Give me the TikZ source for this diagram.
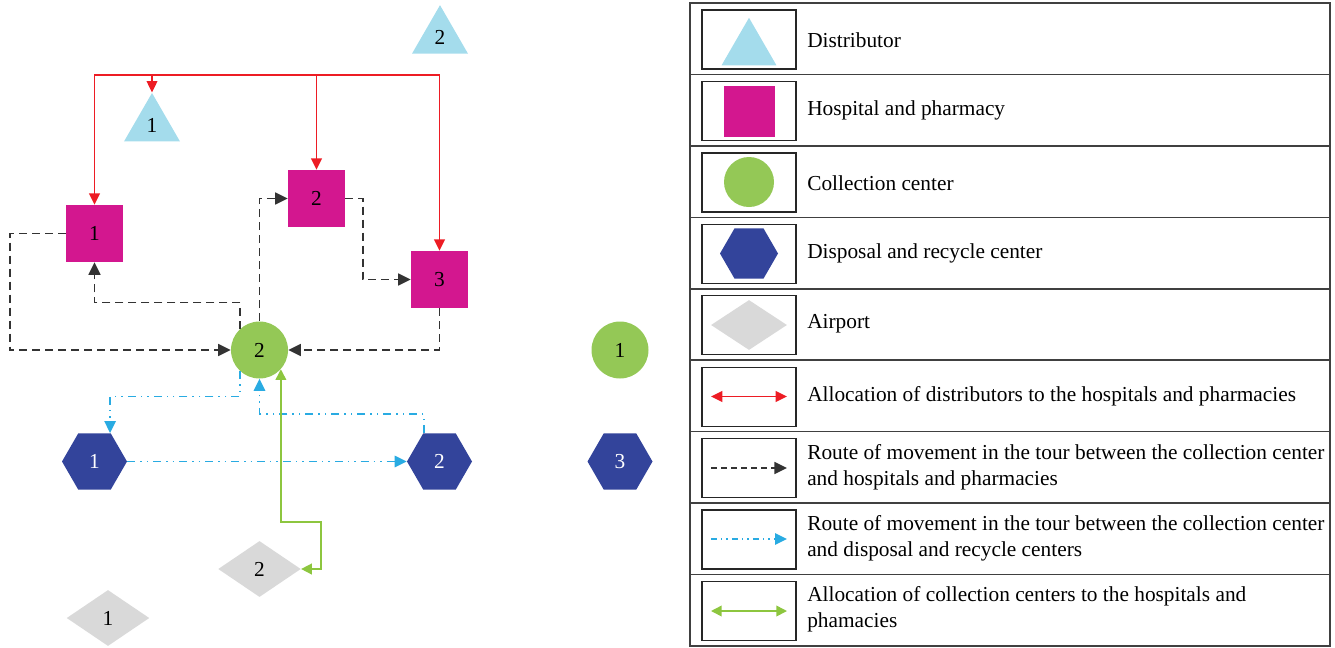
\documentclass[tikz,border=0pt]{standalone}
\usepackage{fontspec}
\setmainfont{Liberation Serif}
\usetikzlibrary{shapes.geometric,arrows.meta}
\definecolor{distc}{HTML}{A4DCEC}
\definecolor{hospc}{HTML}{D3178F}
\definecolor{collc}{HTML}{94C856}
\definecolor{dispc}{HTML}{33449B}
\definecolor{airc}{HTML}{D9D9D9}
\definecolor{redc}{HTML}{ED1C24}
\definecolor{cync}{HTML}{29ABE2}
\definecolor{grnc}{HTML}{8DC63F}
\definecolor{blkc}{HTML}{333333}
\tikzset{
  lbl/.style={font=\fontsize{16}{19.5}\selectfont},
  distr/.style={lbl,regular polygon,regular polygon sides=3,fill=distc,inner sep=0pt,minimum size=48.5pt},
  hosp/.style={lbl,rectangle,fill=hospc,inner sep=0pt,minimum size=42.75pt},
  coll/.style={lbl,circle,fill=collc,inner sep=0pt,minimum size=42.75pt},
  disp/.style={lbl,regular polygon,regular polygon sides=6,fill=dispc,text=white,inner sep=0pt,minimum size=48.75pt},
  airp/.style={lbl,diamond,fill=airc,inner sep=0pt,minimum width=62pt,minimum height=42pt},
  redtip/.style={Triangle[length=8.5pt,width=8pt]},
  redline/.style={draw=redc,line width=1.2pt,-{Triangle[length=8.5pt,width=8pt]}},
  blkline/.style={draw=blkc,line width=1.3pt,dash pattern=on 6pt off 3.75pt,-{Triangle[length=9.5pt,width=9pt]},color=blkc},
  cynline/.style={draw=cync,line width=1.3pt,dash pattern=on 6pt off 3.75pt on 1.1pt off 3.75pt on 1.1pt off 3.75pt,-{Triangle[length=9pt,width=8.5pt]},color=cync},
  grnline/.style={draw=grnc,line width=1.2pt,{Triangle[length=8pt,width=8pt]}-{Triangle[length=8pt,width=8pt]},color=grnc},
  iconbox/.style={rectangle,draw=black!85,line width=0.9pt,minimum width=70.5pt,minimum height=44.25pt,inner sep=0pt},
  legtext/.style={lbl,anchor=west,align=left,inner sep=0pt},
  rowline/.style={draw=black!75,line width=1.2pt}
}
\begin{document}
\begin{tikzpicture}[x=0.75pt,y=-0.75pt]
\useasboundingbox (0,0) rectangle (1335,647);
% ---------- nodes ----------
\node[distr] (d2) at (440,37.5) {2};
\node[distr] (d1) at (152,125.3) {1};
\node[hosp] (h1) at (94.5,233.5) {1};
\node[hosp] (h2) at (316.5,198.5) {2};
\node[hosp] (h3) at (439.5,279.5) {3};
\node[coll] (c2) at (259.5,350) {2};
\node[coll] (c1) at (620,350) {1};
\node[disp] (x1) at (94.5,461.5) {1};
\node[disp] (x2) at (439.5,461.5) {2};
\node[disp] (x3) at (620,461.5) {3};
\node[airp] (a2) at (259.5,569) {2};
\node[airp] (a1) at (108,618) {1};
\coordinate (bus) at (0,75);
% ---------- red allocation ----------
\draw[redline,{Triangle[length=8.5pt,width=8pt]}-{Triangle[length=8.5pt,width=8pt]}] (h1.north) |- (bus -| h3.north) -- (h3.north);
\draw[redline] (d1.north |- bus) -- (d1.north);
\draw[redline] (h2.north |- bus) -- (h2.north);
% ---------- black tour ----------
\draw[blkline] (h1.west) -- ++(-56,0) |- (c2.west);
\draw[blkline] (c2.132) -- ++(0,-26) -| (h1.south);
\draw[blkline] (c2.north) |- (h2.west);
\draw[blkline] (h2.east) -- ++(18,0) |- (h3.west);
\draw[blkline] (h3.south) |- (c2.east);
% ---------- cyan tour ----------
\draw[cynline] (c2.228) -- ++(0,25) -| ([xshift=11.7pt]x1.north);
\draw[cynline] (x1.east) -- (x2.west);
\draw[cynline] ([xshift=-11.7pt]x2.north) -- ++(0,-19) -| (c2.south);
% ---------- green allocation ----------
\draw[grnline] (c2.-42.5) -- ++(0,153) -- ++(40,0) |- (a2.east);
% ---------- legend ----------
\draw[rowline] (690,3) rectangle (1330,646);
\foreach \k in {1,...,8} {
  \draw[rowline] (690,{3+71.44*\k}) -- (1330,{3+71.44*\k});
}
\node[iconbox] (b1) at (749,39.5) {};
\node[iconbox] (b2) at (749,110.9) {};
\node[iconbox] (b3) at (749,182.4) {};
\node[iconbox] (b4) at (749,253.8) {};
\node[iconbox] (b5) at (749,325.2) {};
\node[iconbox] (b6) at (749,396.7) {};
\node[iconbox] (b7) at (749,468.1) {};
\node[iconbox] (b8) at (749,539.5) {};
\node[iconbox] (b9) at (749,611.0) {};
\node[regular polygon,regular polygon sides=3,fill=distc,inner sep=0pt,minimum size=47.6pt] (i1) at (749,49.5) {};
\node[rectangle,fill=hospc,inner sep=0pt,minimum size=38.25pt] (i2) at (749,111.5) {};
\node[circle,fill=collc,inner sep=0pt,minimum size=37.5pt] (i3) at (749,182) {};
\node[regular polygon,regular polygon sides=6,fill=dispc,inner sep=0pt,minimum size=43.5pt] (i4) at (749,253.5) {};
\node[diamond,fill=airc,inner sep=0pt,minimum width=57pt,minimum height=37.5pt] (i5) at (749,325) {};
\coordinate (l6a) at (711,396.5); \coordinate (l6b) at (787,396.5);
\coordinate (l7a) at (711,468);   \coordinate (l7b) at (787,468);
\coordinate (l8a) at (711,539);   \coordinate (l8b) at (787,539);
\coordinate (l9a) at (711,611);   \coordinate (l9b) at (787,611);
\draw[redline,{Triangle[length=8.5pt,width=8pt]}-{Triangle[length=8.5pt,width=8pt]}] (l6a) -- (l6b);
\draw[blkline,dash pattern=on 4.5pt off 3pt] (l7a) -- (l7b);
\draw[cynline,dash pattern=on 4.5pt off 3pt on 1.1pt off 3pt on 1.1pt off 3pt] (l8a) -- (l8b);
\draw[grnline] (l9a) -- (l9b);
\node[legtext] (t1) at (807,40) {Distributor};
\node[legtext] (t2) at (807,110.5) {Hospital and pharmacy};
\node[legtext] (t3) at (807,183) {Collection center};
\node[legtext] (t4) at (807,253) {Disposal and recycle center};
\node[legtext] (t5) at (807,324) {Airport};
\node[legtext] (t6) at (807,396) {Allocation of distributors to the hospitals and pharmacies};
\node[legtext] (t7) at (807,467) {Route of movement in the tour between the collection center\\and hospitals and pharmacies};
\node[legtext] (t8) at (807,538) {Route of movement in the tour between the collection center\\and disposal and recycle centers};
\node[legtext] (t9) at (807,609) {Allocation of collection centers to the hospitals and\\phamacies};
\end{tikzpicture}
\end{document}
